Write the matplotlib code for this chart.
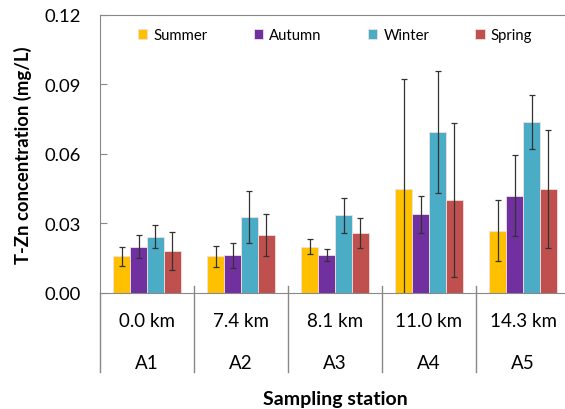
import numpy as np
import matplotlib
matplotlib.use('Agg')
import matplotlib.pyplot as plt

plt.rcParams['font.family'] = ['Lato', 'DejaVu Sans']

# Data
stations = ['A1', 'A2', 'A3', 'A4', 'A5']
distances = ['0.0 km', '7.4 km', '8.1 km', '11.0 km', '14.3 km']
seasons = ['Summer', 'Autumn', 'Winter', 'Spring']
colors = ['#FFC000', '#7030A0', '#4BACC6', '#C0504D']

summer = [0.0158, 0.0158, 0.0200, 0.0448, 0.0269]
autumn = [0.0200, 0.0163, 0.0164, 0.0340, 0.0420]
winter = [0.0243, 0.0329, 0.0335, 0.0696, 0.0738]
spring = [0.0181, 0.0250, 0.0260, 0.0401, 0.0448]

summer_err = [0.0042, 0.0045, 0.0033, 0.0476, 0.0133]
autumn_err = [0.0049, 0.0054, 0.0025, 0.0080, 0.0175]
winter_err = [0.0049, 0.0112, 0.0075, 0.0263, 0.0118]
spring_err = [0.0082, 0.0091, 0.0065, 0.0334, 0.0255]

values = [summer, autumn, winter, spring]
errors = [summer_err, autumn_err, winter_err, spring_err]

fig = plt.figure(figsize=(5.65, 4.1), dpi=100)
ax = fig.add_axes([0.177, 0.283, 0.832, 0.678])

x = np.arange(len(stations))
w = 0.18
for i, (vals, errs) in enumerate(zip(values, errors)):
    ax.bar(x + (i - 1.5) * w, vals, w, color=colors[i], label=seasons[i],
           edgecolor='#f2e0e0', linewidth=0.6,
           yerr=errs, error_kw=dict(ecolor='#333333', elinewidth=0.9,
                                    capsize=2, capthick=0.9))

ax.set_xlim(-0.5, 4.5)
ax.set_ylim(0, 0.12)
ax.set_yticks([0, 0.03, 0.06, 0.09, 0.12])
ax.set_yticklabels(['0.00', '0.03', '0.06', '0.09', '0.12'])
ax.tick_params(axis='y', direction='in', length=5, pad=14, labelsize=13.3,
               color='#888888')
ax.set_xticks([])

for side in ['left', 'top', 'bottom']:
    ax.spines[side].set_color('#888888')
ax.spines['right'].set_visible(False)

# category axis: group dividers and two rows of labels
trans = ax.get_xaxis_transform()
for b in np.arange(-0.5, 5.0, 1.0):
    y0 = 0.0 if b == -0.5 else 0.025
    ax.plot([b, b], [y0, -0.285], transform=trans, color='#888888',
            linewidth=1.0, clip_on=False)
for xi, d, s in zip(x, distances, stations):
    ax.annotate(d, (xi, 0), xycoords=trans, xytext=(0, -20),
                textcoords='offset points', ha='center', va='center',
                fontsize=13.5)
    ax.annotate(s, (xi, 0), xycoords=trans, xytext=(0, -50),
                textcoords='offset points', ha='center', va='center',
                fontsize=13.5)
ax.annotate('Sampling station', (0.5, 0), xycoords='axes fraction',
            xytext=(0, -76), textcoords='offset points', ha='center',
            va='center', fontsize=14, fontweight='bold')

ax.set_ylabel('T-Zn concentration (mg/L)', fontsize=13.3, fontweight='bold',
              labelpad=9)

ax.legend(loc='upper center', ncol=4, frameon=False, fontsize=10.7,
          handlelength=0.65, handleheight=0.65, columnspacing=3.1,
          handletextpad=0.4, bbox_to_anchor=(0.5, 1.0))

fig.savefig('out.png', dpi=100)
